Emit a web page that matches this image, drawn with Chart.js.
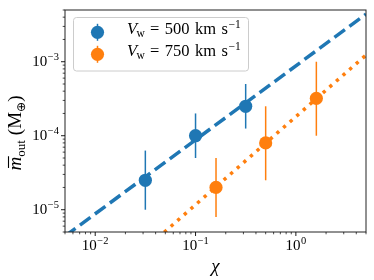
<!DOCTYPE html>
<html><head><meta charset="utf-8">
<script src="https://cdn.jsdelivr.net/npm/chart.js@4"></script>
<style>html,body{margin:0;padding:0;background:#fff}</style>
</head><body>
<canvas id="c" width="374" height="280" style="width:374px;height:280px;display:block"></canvas>
<script>
// ---- data ----
const chi500 = [0.0316, 0.1, 0.316];
const m500   = [2.5e-5, 1.0e-4, 2.5e-4];
const lo500  = [1.0e-5, 5.0e-5, 1.25e-4];
const hi500  = [6.3e-5, 2.0e-4, 5.0e-4];

const chi750 = [0.16, 0.5, 1.6];
const m750   = [2.0e-5, 8.0e-5, 3.2e-4];
const lo750  = [8.0e-6, 2.5e-5, 1.0e-4];
const hi750  = [5.0e-5, 2.5e-4, 1.0e-3];

const fitChi = [0.005, 5];
const fit500 = [4.4e-6, 4.4e-3];
const fit750 = [3.3e-7, 1.23e-3];

const legendLabels = ['500', '750'];
const xMajor = [0.01, 0.1, 1];
const xMajorExp = ['\u22122', '\u22121', '0'];
const yMajor = [1e-5, 1e-4, 1e-3];
const yMajorExp = ['\u22125', '\u22124', '\u22123'];
const xLimits = [0.005, 5];
const yLimits = [5e-6, 5e-3];

const BLUE = '#1f77b4', ORANGE = '#ff7f0e';
const SERIF = '"Liberation Serif", "DejaVu Serif", serif';

function pts(xs, ys) { return xs.map((x, i) => ({x: x, y: ys[i]})); }
function minorTicks(lo, hi) {
  const out = [];
  for (let e = Math.floor(Math.log10(lo)); e <= Math.ceil(Math.log10(hi)); e++) {
    for (let k = 2; k <= 9; k++) { const v = k * Math.pow(10, e); if (v >= lo * 0.999 && v <= hi * 1.001) out.push(v); }
  }
  return out;
}

function drawParts(ctx, x, y, parts, doDraw) {
  let cx = x;
  for (const p of parts) {
    ctx.font = p.font;
    const w = ctx.measureText(p.t).width;
    if (doDraw) {
      ctx.fillText(p.t, cx, y + (p.dy || 0));
      if (p.macron) {
        ctx.save(); ctx.lineWidth = 1.1; ctx.beginPath();
        ctx.moveTo(cx + 2.5, y - p.macron); ctx.lineTo(cx + w + 0.5, y - p.macron); ctx.stroke(); ctx.restore();
      }
    }
    cx += w + (p.gap || 0);
  }
  return cx - x;
}

const errorBars = {
  id: 'errorBars',
  beforeDatasetDraw(chart, args) {
    const ds = chart.data.datasets[args.index];
    if (!ds.errLo) return;
    const xs = chart.scales.x, ys = chart.scales.y, ctx = chart.ctx;
    ctx.save();
    ctx.strokeStyle = ds.backgroundColor; ctx.lineWidth = 1.5;
    ds.data.forEach((p, i) => {
      const px = xs.getPixelForValue(p.x);
      ctx.beginPath();
      ctx.moveTo(px, ys.getPixelForValue(ds.errLo[i]));
      ctx.lineTo(px, ys.getPixelForValue(ds.errHi[i]));
      ctx.stroke();
    });
    ctx.restore();
  }
};

const axesDecor = {
  id: 'axesDecor',
  afterDraw(chart) {
    const ctx = chart.ctx, a = chart.chartArea, xs = chart.scales.x, ys = chart.scales.y;
    ctx.save();
    // frame
    ctx.strokeStyle = '#222'; ctx.lineWidth = 1;
    ctx.strokeRect(a.left, a.top, a.right - a.left, a.bottom - a.top);
    // ticks
    ctx.strokeStyle = '#000';
    const tick = (x1, y1, x2, y2, w) => { ctx.lineWidth = w; ctx.beginPath(); ctx.moveTo(x1, y1); ctx.lineTo(x2, y2); ctx.stroke(); };
    xMajor.forEach(v => { const px = xs.getPixelForValue(v); tick(px, a.bottom, px, a.bottom + 4, 0.9); });
    minorTicks(xLimits[0], xLimits[1]).forEach(v => { const px = xs.getPixelForValue(v); tick(px, a.bottom, px, a.bottom + 2.3, 0.7); });
    yMajor.forEach(v => { const py = ys.getPixelForValue(v); tick(a.left, py, a.left - 4, py, 0.9); });
    minorTicks(yLimits[0], yLimits[1]).forEach(v => { const py = ys.getPixelForValue(v); tick(a.left, py, a.left - 2.3, py, 0.7); });
    // tick labels
    ctx.fillStyle = '#000'; ctx.textBaseline = 'alphabetic'; ctx.textAlign = 'left';
    const F = 15, FS = 10.5;
    const lab = (exp) => [{t: '10', font: `${F}px ${SERIF}`, gap: 0.5}, {t: exp, font: `${FS}px ${SERIF}`, dy: -6.5}];
    xMajor.forEach((v, i) => {
      const px = xs.getPixelForValue(v);
      const w = drawParts(ctx, 0, 0, lab(xMajorExp[i]), false);
      drawParts(ctx, px - w / 2, 250, lab(xMajorExp[i]), true);
    });
    yMajor.forEach((v, i) => {
      const py = ys.getPixelForValue(v);
      const w = drawParts(ctx, 0, 0, lab(yMajorExp[i]), false);
      drawParts(ctx, a.left - 6 - w, py + 4.5, lab(yMajorExp[i]), true);
    });
    // x title
    ctx.font = `italic 19px ${SERIF}`; ctx.textAlign = 'center';
    ctx.fillText('\u03c7', (a.left + a.right) / 2, 272);
    ctx.textAlign = 'left';
    // y title
    const yt = [
      {t: 'm', font: `italic 19px ${SERIF}`, macron: 12.5},
      {t: 'out', font: `13px ${SERIF}`, dy: 4, gap: 5},
      {t: '(M', font: `19px ${SERIF}`},
      {t: '\u2295', font: `12px "DejaVu Sans", ${SERIF}`, dy: 4},
      {t: ')', font: `19px ${SERIF}`}
    ];
    ctx.save();
    ctx.translate(21, 133);
    ctx.rotate(-Math.PI / 2);
    ctx.strokeStyle = '#000';
    const yw = drawParts(ctx, 0, 0, yt, false);
    drawParts(ctx, -yw / 2, 0, yt, true);
    ctx.restore();
    // legend
    const lx = 73.5, ly = 17.5, lw = 175, lh = 53.5, r = 3;
    ctx.beginPath();
    ctx.moveTo(lx + r, ly); ctx.lineTo(lx + lw - r, ly); ctx.arcTo(lx + lw, ly, lx + lw, ly + r, r);
    ctx.lineTo(lx + lw, ly + lh - r); ctx.arcTo(lx + lw, ly + lh, lx + lw - r, ly + lh, r);
    ctx.lineTo(lx + r, ly + lh); ctx.arcTo(lx, ly + lh, lx, ly + lh - r, r);
    ctx.lineTo(lx, ly + r); ctx.arcTo(lx, ly, lx + r, ly, r); ctx.closePath();
    ctx.fillStyle = 'rgba(255,255,255,0.8)'; ctx.fill();
    ctx.strokeStyle = '#cccccc'; ctx.lineWidth = 1; ctx.stroke();
    const cols = [BLUE, ORANGE], rows = [32.3, 54.3];
    legendLabels.forEach((s, i) => {
      const cy = rows[i];
      ctx.strokeStyle = cols[i]; ctx.lineWidth = 1.5;
      ctx.beginPath(); ctx.moveTo(97.5, cy - 8.5); ctx.lineTo(97.5, cy + 8.5); ctx.stroke();
      ctx.fillStyle = cols[i]; ctx.beginPath(); ctx.arc(97.5, cy, 6.6, 0, Math.PI * 2); ctx.fill();
      ctx.fillStyle = '#000';
      const LF = 16.5;
      drawParts(ctx, 127, cy + 2, [
        {t: 'V', font: `italic ${LF}px ${SERIF}`, gap: -0.5},
        {t: 'w', font: `${LF * 0.7}px ${SERIF}`, dy: 2.5, gap: 5},
        {t: '=', font: `${LF}px ${SERIF}`, gap: 5.5},
        {t: s, font: `${LF}px ${SERIF}`, gap: 5.5},
        {t: 'km', font: `${LF}px ${SERIF}`, gap: 5.5},
        {t: 's', font: `${LF}px ${SERIF}`, gap: 0.5},
        {t: '\u22121', font: `${LF * 0.7}px ${SERIF}`, dy: -6.5}
      ], true);
    });
    ctx.restore();
  }
};

new Chart(document.getElementById('c'), {
  type: 'scatter',
  data: {
    datasets: [
      {type: 'line', data: pts(fitChi, fit500), borderColor: BLUE, borderWidth: 3.5, borderDash: [13, 5.6],
       pointRadius: 0, fill: false, clip: 0, order: 3},
      {type: 'line', data: pts(fitChi, fit750), borderColor: ORANGE, borderWidth: 3.5, borderDash: [3.3, 5.5],
       pointRadius: 0, fill: false, clip: 0, order: 3},
      {data: pts(chi500, m500), errLo: lo500, errHi: hi500, backgroundColor: BLUE, borderColor: BLUE,
       pointRadius: 6.6, pointBorderWidth: 0, order: 1},
      {data: pts(chi750, m750), errLo: lo750, errHi: hi750, backgroundColor: ORANGE, borderColor: ORANGE,
       pointRadius: 6.6, pointBorderWidth: 0, order: 1}
    ]
  },
  options: {
    responsive: false, devicePixelRatio: 1, animation: false,
    layout: {padding: {left: 65, right: 8, top: 10, bottom: 48}},
    scales: {
      x: {type: 'logarithmic', min: xLimits[0], max: xLimits[1], display: false},
      y: {type: 'logarithmic', min: yLimits[0], max: yLimits[1], display: false}
    },
    plugins: {legend: {display: false}, tooltip: {enabled: false}}
  },
  plugins: [errorBars, axesDecor]
});
</script>
</body></html>
